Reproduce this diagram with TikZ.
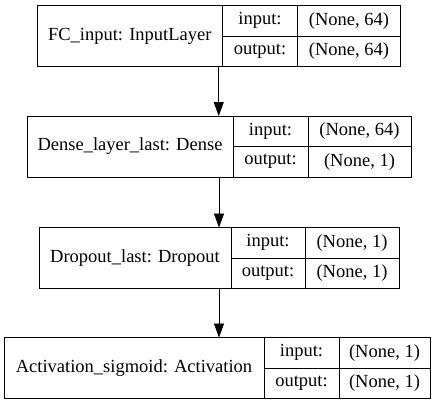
\documentclass[tikz,border=0pt]{standalone}
\usepackage{fontspec}
\setmainfont{Liberation Serif}
\usetikzlibrary{arrows.meta, positioning}

\begin{document}
\begin{tikzpicture}[
    x=1pt, y=-1pt,
    frame/.style={draw, line width=0.9pt, inner sep=0pt, outer sep=0pt, anchor=north west, minimum height=61pt},
    cell/.style={draw, line width=0.9pt, inner sep=0pt, outer sep=0pt, anchor=north west, font=\fontsize{18.5}{20}\selectfont},
    namecell/.style={cell, minimum height=61pt},
    portcell/.style={cell, minimum height=30.5pt},
    conn/.style={-{Triangle[length=14pt, width=10pt]}, line width=0.9pt}
]
\useasboundingbox (0,0) rectangle (437,405);

% FC_input
\node[frame, minimum width=363.5pt] (fc) at (37,5.5) {};
\node[namecell, minimum width=185.5pt] (fcname) at (fc.north west) {FC\_input: InputLayer};
\node[portcell, minimum width=75pt] (fcin) at (fcname.north east) {input:};
\node[portcell, minimum width=103pt] (fcinval) at (fcin.north east) {(None, 64)};
\node[portcell, minimum width=75pt] (fcout) at (fcin.south west) {output:};
\node[portcell, minimum width=103pt] (fcoutval) at (fcout.north east) {(None, 64)};

% Dense_layer_last
\node[frame, minimum width=384pt] (dense) at (27,116) {};
\node[namecell, minimum width=206pt] (densename) at (dense.north west) {Dense\_layer\_last: Dense};
\node[portcell, minimum width=75pt] (densein) at (densename.north east) {input:};
\node[portcell, minimum width=103pt] (denseinval) at (densein.north east) {(None, 64)};
\node[portcell, minimum width=75pt] (denseout) at (densein.south west) {output:};
\node[portcell, minimum width=103pt] (denseoutval) at (denseout.north east) {(None, 1)};

% Dropout_last
\node[frame, minimum width=360pt] (drop) at (39,227.5) {};
\node[namecell, minimum width=192pt] (dropname) at (drop.north west) {Dropout\_last: Dropout};
\node[portcell, minimum width=74pt] (dropin) at (dropname.north east) {input:};
\node[portcell, minimum width=94pt] (dropinval) at (dropin.north east) {(None, 1)};
\node[portcell, minimum width=74pt] (dropout) at (dropin.south west) {output:};
\node[portcell, minimum width=94pt] (dropoutval) at (dropout.north east) {(None, 1)};

% Activation_sigmoid
\node[frame, minimum width=426pt] (act) at (4,337.5) {};
\node[namecell, minimum width=260pt] (actname) at (act.north west) {Activation\_sigmoid: Activation};
\node[portcell, minimum width=75pt] (actin) at (actname.north east) {input:};
\node[portcell, minimum width=91pt] (actinval) at (actin.north east) {(None, 1)};
\node[portcell, minimum width=75pt] (actout) at (actin.south west) {output:};
\node[portcell, minimum width=91pt] (actoutval) at (actout.north east) {(None, 1)};

\draw[conn] (fc.south) -- (fc.south |- dense.north);
\draw[conn] (dense.south) -- (dense.south |- drop.north);
\draw[conn] (drop.south) -- (drop.south |- act.north);

\end{tikzpicture}
\end{document}
